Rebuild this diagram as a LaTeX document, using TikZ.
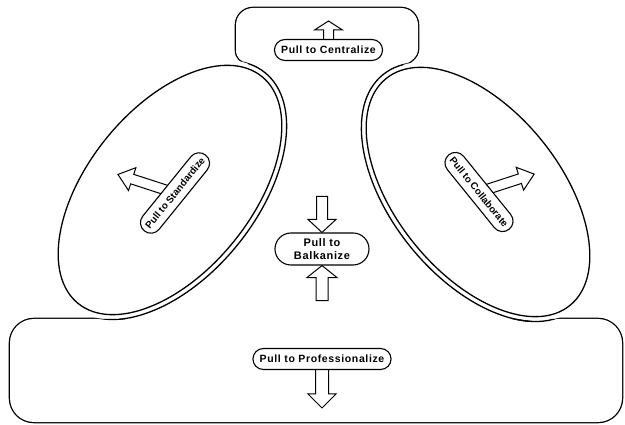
\documentclass[tikz,border=0pt]{standalone}
\usepackage{fontspec}
\newfontfamily\pullfont[LetterSpace=6]{Liberation Sans}
\newfontfamily\tiltfont{Liberation Sans}
\usetikzlibrary{shapes.misc}
\pgfdeclarelayer{front}
\pgfsetlayers{main,front}

\tikzset{
  % region holding the top box and the space between the two ellipses
  upperregion/.style={insert path={
    (236,50) -- (236,25) arc[start angle=180, end angle=270, radius=17]
    -- (401,8) arc[start angle=270, end angle=360, radius=17]
    -- (418,49) .. controls (418,57) and (410,62.9) .. (403,64.9)
    -- (385,95) -- (478,192) -- (535.5,335) -- (112.5,335) -- (170,190) -- (262,90)
    -- (248,63.6) .. controls (241,61.6) and (236,58) .. (236,50) -- cycle}},
  lowerregion/.style={insert path={[rounded corners=24] (10,319) rectangle (622,422)}},
  outline/.style={line width=1.3pt, black},
  leftell/.style={rotate around={51:(lc)}},
  rightell/.style={rotate around={-51:(rc)}},
  pill/.style={rounded rectangle, draw, fill=white, line width=1.1pt,
    font=\pullfont\bfseries\fontsize{10.5}{12}\selectfont,
    inner xsep=6pt, inner ysep=3pt, minimum height=21pt},
  tiltpill/.style={pill, font=\tiltfont\bfseries\fontsize{9.8}{11}\selectfont,
    inner xsep=4pt, minimum height=21pt},
  arrowline/.style={draw=black, fill=white, line width=1pt, line join=miter},
  pics/blockarrow/.style args={#1/#2/#3/#4}{code={
    \filldraw[arrowline] (0,-#2/2) -- (#1-#4,-#2/2) -- (#1-#4,-#3/2) -- (#1,0)
      -- (#1-#4,#3/2) -- (#1-#4,#2/2) -- (0,#2/2) -- cycle;}}
}

\begin{document}
\begin{tikzpicture}[x=1pt, y=-1pt]
\useasboundingbox (0,0) rectangle (625,425);

\coordinate (lc) at (170,190);
\coordinate (rc) at (478,192);

% outer frame: thick stroke, then white fill leaves the outside half
\draw[line width=2.6pt, upperregion];
\draw[line width=2.6pt, lowerregion];
\fill[white, upperregion];
\fill[white, lowerregion];

% clear the frame where it runs under the ellipse borders
\fill[white, leftell] (lc) ellipse [x radius=151, y radius=87];
\fill[white, rightell] (rc) ellipse [x radius=151, y radius=87];

% inner edges of the frame, parallel to the ellipses
\begin{scope}
  \clip[upperregion];
  \draw[outline, leftell] (lc) ellipse [x radius=151, y radius=87];
  \draw[outline, rightell] (rc) ellipse [x radius=151, y radius=87];
\end{scope}
\begin{scope}
  \clip[lowerregion];
  \draw[outline, leftell] (lc) ellipse [x radius=151, y radius=87];
  \draw[outline, rightell] (rc) ellipse [x radius=151, y radius=87];
\end{scope}

% the two ellipses
\draw[outline, leftell] (lc) ellipse [x radius=146, y radius=82];
\draw[outline, rightell] (rc) ellipse [x radius=146, y radius=82];

% labels
\begin{pgfonlayer}{front}
  \node[pill] (cent) at (328.5,50) {Pull to Centralize};
  \node[pill, align=center, inner ysep=2pt, minimum width=106pt, minimum height=32pt,
        font=\pullfont\bfseries\fontsize{11}{13}\selectfont] (balk) at (322,249) {Pull to\\Balkanize};
  \node[pill] (prof) at (322,359) {Pull to Professionalize};
  \node[tiltpill, rotate=51] (std) at (175,193) {Pull to Standardize};
  \node[tiltpill, rotate=-51] (col) at (479,192) {Pull to Collaborate};
\end{pgfonlayer}

% pulls
\pic[rotate=90] at (cent.center) {blockarrow=29/10/28/9};
\pic[rotate=162] at (std.center) {blockarrow=60/10/24/15};
\pic[rotate=18] at (col.center) {blockarrow=58/10/24/15};
\pic[rotate=-90] at (prof.center) {blockarrow=49/13/28/14};
\pic[rotate=-90] at ([yshift=36pt]balk.north) {blockarrow=36/11/28/13};
\pic[rotate=90] at ([yshift=-35pt]balk.south) {blockarrow=35/12/30/12};
\end{tikzpicture}
\end{document}
